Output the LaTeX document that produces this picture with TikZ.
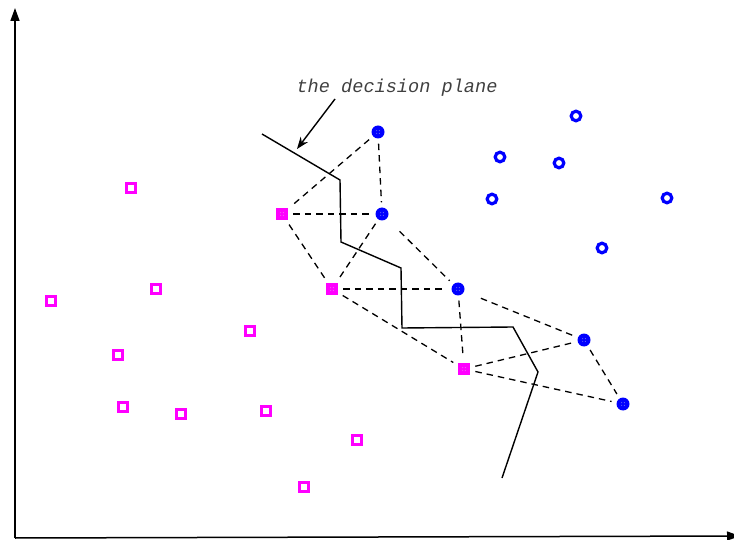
\documentclass[tikz,border=0pt]{standalone}
\usepackage{fontspec}
\newfontfamily\monofont{Liberation Mono}
\usetikzlibrary{arrows.meta}
\definecolor{mag}{RGB}{255,0,255}
\definecolor{blu}{RGB}{0,0,255}
\begin{document}
\begin{tikzpicture}[x=1pt,y=-1pt,
  hsq/.style={draw=mag,line width=3pt,minimum size=9pt,inner sep=0pt,rectangle},
  fsq/.style={fill=mag,minimum size=12.5pt,inner sep=0pt,rectangle},
  hci/.style={draw=blu,line width=3.2pt,minimum size=9.6pt,inner sep=0pt,circle},
  fci/.style={fill=blu,minimum size=13pt,inner sep=0pt,circle},
  dl/.style={black,line width=1.3pt,dash pattern=on 6.5pt off 5pt,shorten <=5pt,shorten >=5pt},
  sl/.style={black,line width=1.4pt},
  ax/.style={black,line width=1.5pt}]
\useasboundingbox (0,0) rectangle (734,540);
\clip (0,0) rectangle (734,540);
% axes
\coordinate (o) at (15,538);
\coordinate (ytop) at (15,8);
\coordinate (xr) at (740,536);
\draw[ax,-{Triangle[length=13pt,width=9pt]}] (o) -- (ytop);
\draw[ax,-{Triangle[length=13pt,width=9pt]}] (o) -- (xr);
% hollow squares
\foreach \i/\p in {1/{(131,188)},2/{(51,301)},3/{(156,289)},4/{(250,331)},5/{(118,355)},6/{(123,407)},7/{(181,414)},8/{(266,411)},9/{(357,440)},10/{(304,487)}}
  \node[hsq] (q\i) at \p {};
% hollow circles
\foreach \i/\p in {1/{(576,116)},2/{(500,157)},3/{(559,163)},4/{(492,199)},5/{(667,198)},6/{(602,248)},7/{(741,131)}}
  \node[hci] (c\i) at \p {};
% support squares
\node[fsq] (s1) at (282,214) {};
\node[fsq] (s2) at (332,289) {};
\node[fsq] (s3) at (464,369) {};
% support circles
\node[fci] (b1) at (378,132) {};
\node[fci] (b2) at (382,214) {};
\node[fci] (b3) at (458,289) {};
\node[fci] (b4) at (584,340) {};
\node[fci] (b5) at (623,404) {};
% tiny dots in support markers
\foreach \n in {s1,s2,s3,b1,b2,b3,b4,b5}{
  \foreach \dx/\dy in {-1.3/-1.3,1.3/-1.3,-1.3/1.3,1.3/1.3}
    \fill[white!75!gray] ([shift={(\dx,\dy)}]\n.center) circle (0.4pt);
}
% dashed connections
\draw[dl] (b1) -- (s1);
\draw[dl] (b1) -- (b2);
\draw[dl] (s1) -- (b2);
\draw[dl] (b2) -- (s2);
\draw[dl] (s1) -- (s2);
\draw[dl,shorten <=18pt] (b2) -- (b3);
\draw[dl] (s2) -- (b3);
\draw[dl] (s2) -- (s3);
\draw[dl] (b3) -- (s3);
\draw[dl,shorten <=18pt] (b3) -- (b4);
\draw[dl] (s3) -- (b4);
\draw[dl] (s3) -- (b5);
\draw[dl] (b4) -- (b5);
% decision line
\coordinate (d0) at (262,134);
\coordinate (d1) at (340,180);
\coordinate (d2) at (341,242);
\coordinate (d3) at (401,268);
\coordinate (d4) at (402,328);
\coordinate (d5) at (513,327);
\coordinate (d6) at (538,372);
\coordinate (d7) at (502,478);
\draw[sl] (d0) -- (d1) -- (d2) -- (d3) -- (d4) -- (d5) -- (d6) -- (d7);
% label
\node[font=\monofont\itshape\fontsize{18.6}{21}\selectfont,text=black!75,inner sep=0pt] (lab) at (397,88) {the decision plane};
\coordinate (at) at (335,99);
\coordinate (ah) at (297,149);
\draw[sl,-{Stealth[length=12pt,width=9pt]}] (at) -- (ah);
\end{tikzpicture}
\end{document}
